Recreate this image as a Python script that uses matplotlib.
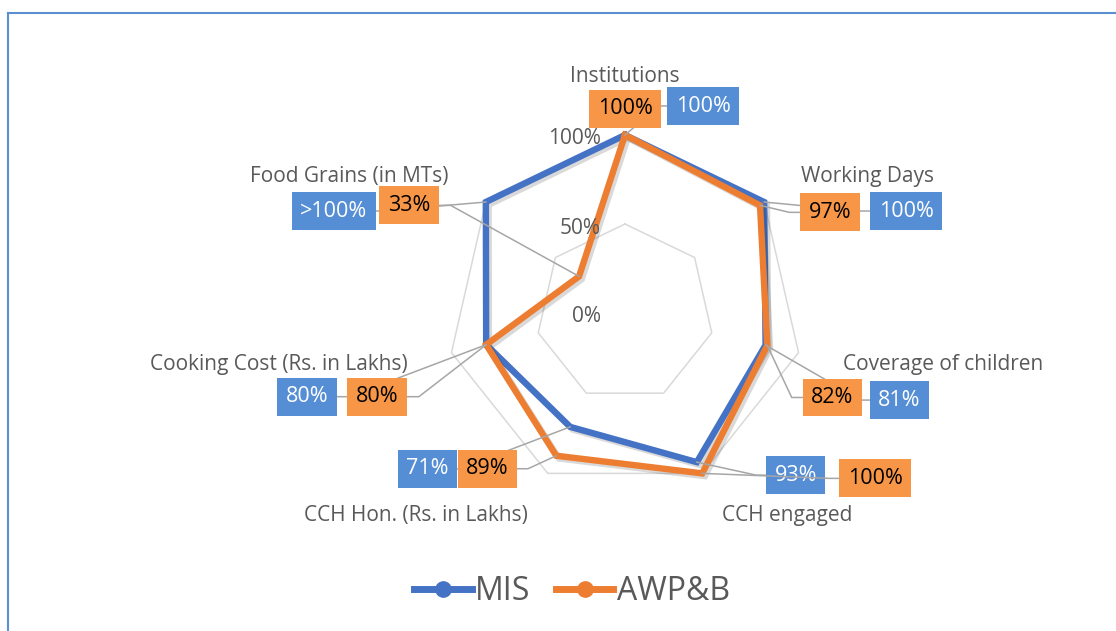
import numpy as np
import matplotlib
matplotlib.use("Agg")
import matplotlib.pyplot as plt
from matplotlib.lines import Line2D
from matplotlib.transforms import IdentityTransform
import matplotlib.patheffects as pe

# ---------------- data ----------------
categories = ["Institutions", "Working Days", "Coverage of children", "CCH engaged",
              "CCH Hon. (Rs. in Lakhs)", "Cooking Cost (Rs. in Lakhs)", "Food Grains (in MTs)"]
mis_values = [100, 100, 81, 93, 71, 80, 100]
awpb_values = [100, 97, 82, 100, 89, 80, 33]
mis_labels = ["100%", "100%", "81%", "93%", "71%", "80%", ">100%"]
awpb_labels = ["100%", "97%", "82%", "100%", "89%", "80%", "33%"]
series_names = ["MIS", "AWP&B"]
r_ticks = [0, 50, 100]
r_tick_labels = ["0%", "50%", "100%"]

# ---------------- style / layout ----------------
FONT = ["Open Sans", "DejaVu Sans"]
plt.rcParams["font.family"] = FONT
BLUE_LINE = "#4472C4"
ORANGE_LINE = "#ED7D31"
BLUE_BOX = "#558ED5"
ORANGE_BOX = "#F79646"
GRID = "#D9D9D9"
TXT = "#595959"
LEADER = "#A6A6A6"

W, H = 1116, 631
fig = plt.figure(figsize=(W / 100, H / 100), dpi=100)
cx, cy, R = 625, 313, 178
ax = fig.add_axes([(cx - R) / W, (H - cy - R) / H, 2 * R / W, 2 * R / H], projection="polar")
ax.set_theta_offset(np.pi / 2)
ax.set_theta_direction(-1)
ax.set_ylim(0, 100)
ax.set_axis_off()
ax.autoscale(False)

n = len(categories)
theta = np.arange(n) * 2 * np.pi / n
theta_c = np.append(theta, theta[0])

# polygon grid
for rt in r_ticks[1:]:
    ax.plot(theta_c, [rt] * (n + 1), color=GRID, lw=1.1, zorder=1, clip_on=False)

# radial tick labels
for rt, lab in zip(r_ticks, r_tick_labels):
    ax.annotate(lab, xy=(0, rt), xytext=(-24, -4), textcoords="offset pixels",
                ha="right", va="center", fontsize=15, color=TXT, annotation_clip=False)

shadow = [pe.SimpleLineShadow(offset=(2, -2), shadow_color="black", alpha=0.15), pe.Normal()]
ax.plot(theta_c, mis_values + mis_values[:1], color=BLUE_LINE, lw=4.6, zorder=2,
        solid_joinstyle="miter", clip_on=False, path_effects=shadow)
ax.plot(theta_c, awpb_values + awpb_values[:1], color=ORANGE_LINE, lw=4.6, zorder=2.1,
        solid_joinstyle="miter", clip_on=False, path_effects=shadow)

# category labels (offsets in pixels from the 100% vertex, baseline anchored)
cat_offsets = [(0, 53), (103, 20), (145, -17), (85, -48), (-132, -48), (-173, -17), (-137, 20)]
for th, cat, (dx, dy) in zip(theta, categories, cat_offsets):
    ax.annotate(cat, xy=(th, 100), xytext=(dx, dy), textcoords="offset pixels",
                ha="center", va="baseline", fontsize=15, color=TXT, annotation_clip=False)

# data labels: box-centre offsets in pixels, leader side and stub length
mis_off = [(78, 29), (142, -9), (134, -55), (99, -13), (-143, -42), (-179, -52), (-152, -9)]
awp_off = [(0, 26), (70, -7), (65, -52), (173, -5), (-69, -13), (-109, -52), (-170, 71)]
mis_lead = [("left", 8), ("left", 12), ("left", 9), ("left", 10), ("right", 3), ("right", 12), ("right", 5)]
awp_lead = [None, ("left", 11), ("left", 11), ("left", 10), ("right", 11), ("right", 12), ("right", 12)]
awp_lead_z = [2.5, 2.5, 2.5, 4, 2.5, 2.5, 2.5]

boxes = []
for vals, labs, offs, leads, fc, tc, zs in [
        (mis_values, mis_labels, mis_off, mis_lead, BLUE_BOX, "white", [2.5] * n),
        (awpb_values, awpb_labels, awp_off, awp_lead, ORANGE_BOX, "black", awp_lead_z)]:
    for th, v, lab, (dx, dy), ld, z in zip(theta, vals, labs, offs, leads, zs):
        t = ax.annotate(lab, xy=(th, v), xytext=(dx, dy), textcoords="offset pixels",
                        ha="center", va="center", fontsize=15.5, color=tc, zorder=3,
                        annotation_clip=False,
                        bbox=dict(boxstyle="square,pad=0.39", fc=fc, ec="none"))
        boxes.append((t, th, v, ld, z))

fig.canvas.draw()
rend = fig.canvas.get_renderer()
for t, th, v, ld, z in boxes:
    if ld is None:
        continue
    side, stub = ld
    bb = t.get_bbox_patch().get_window_extent(rend)
    px, py = ax.transData.transform((th, v))
    ym = (bb.y0 + bb.y1) / 2
    if side == "left":
        x0, x1 = bb.x0, bb.x0 - stub
    else:
        x0, x1 = bb.x1, bb.x1 + stub
    ln = Line2D([x0, x1, px], [ym, ym, py], transform=IdentityTransform(),
                color=LEADER, lw=1.1, zorder=z)
    ax.add_artist(ln)
    ln.set_clip_on(False)

# legend
handles = [Line2D([], [], color=BLUE_LINE, lw=5, marker="o", markersize=11),
           Line2D([], [], color=ORANGE_LINE, lw=5, marker="o", markersize=11)]
leg = fig.legend(handles, series_names, loc="center", bbox_to_anchor=(572 / W, 1 - 592 / H),
                 ncol=2, frameon=False, fontsize=23, handlelength=1.8, handletextpad=0.1,
                 columnspacing=0.8, labelcolor=TXT)

# outer border (top and left visible)
bc = "#5B8FD0"
fig.add_artist(Line2D([8 / W, 1], [1 - 12.5 / H] * 2, transform=fig.transFigure, color=bc, lw=1.5))
fig.add_artist(Line2D([8.3 / W] * 2, [0, 1 - 12.5 / H], transform=fig.transFigure, color=bc, lw=1.5))

fig.savefig("out.png", dpi=100)
